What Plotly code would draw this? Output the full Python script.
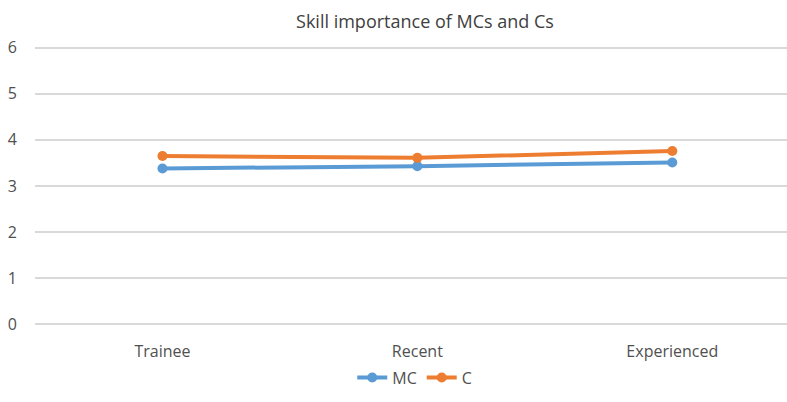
import plotly.graph_objects as go

categories = ["Trainee", "Recent", "Experienced"]
mc_values = [3.38, 3.43, 3.51]
c_values = [3.65, 3.61, 3.76]
y_ticks = [0, 1, 2, 3, 4, 5, 6]

BLUE = "#5B9BD5"
ORANGE = "#ED7D31"
FONT = "Open Sans"

fig = go.Figure()
fig.add_trace(go.Scatter(
    x=categories, y=mc_values, name="MC", mode="lines+markers",
    line=dict(color=BLUE, width=4), marker=dict(color=BLUE, size=10),
))
fig.add_trace(go.Scatter(
    x=categories, y=c_values, name="C", mode="lines+markers",
    line=dict(color=ORANGE, width=4), marker=dict(color=ORANGE, size=10),
))

fig.update_layout(
    width=787, height=402,
    margin=dict(l=35, r=0, t=43, b=73),
    paper_bgcolor="white", plot_bgcolor="white",
    font=dict(family=FONT, color="#505050", size=16),
    title=dict(text="Skill importance of MCs and Cs", x=0.54, xanchor="center",
               y=0.945, yanchor="middle",
               font=dict(family=FONT, size=18, color="#404040")),
    showlegend=True,
    legend=dict(orientation="h", x=0.505, xanchor="center", y=-0.17, yanchor="middle",
                font=dict(size=16, color="#505050"), itemwidth=30,
                bgcolor="rgba(0,0,0,0)"),
    xaxis=dict(type="category", range=[-0.5, 2.45], showgrid=False, showline=False,
               ticks="", ticklabelstandoff=11, tickfont=dict(size=16)),
    yaxis=dict(range=[-0.1, 6.1], tickvals=y_ticks, showgrid=True, gridcolor="#D9D9D9",
               gridwidth=1.5, zeroline=False, showline=False, ticks="",
               ticklabelstandoff=17, tickfont=dict(size=16)),
)

fig.write_html("out.html")
